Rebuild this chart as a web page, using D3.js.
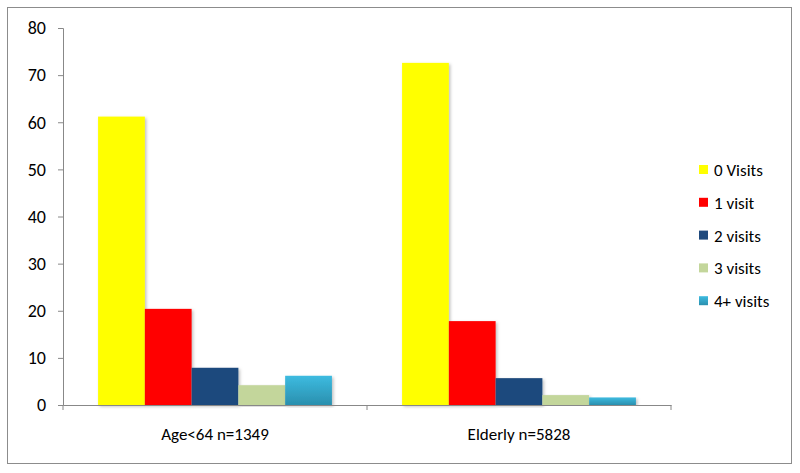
<html>
<head>
<meta charset="utf-8">
<script src="https://d3js.org/d3.v7.min.js"></script>
<style>
  body { margin: 0; background: #fff; }
  text { font-family: Carlito, Lato, "Open Sans", sans-serif; fill: #000; }
</style>
</head>
<body>
<div id="chart"></div>
<script>
// data
const groups = ["Age<64 n=1349", "Elderly n=5828"];
const seriesNames = ["0 Visits", "1 visit", "2 visits", "3 visits", "4+ visits"];
const seriesColors = ["#FFFF00", "#FF0000", "#1F497D", "#C3D69B", "#31B3D6"];
const visits0 = [61.2, 72.6];
const visits1 = [20.4, 17.8];
const visits2 = [7.9, 5.7];
const visits3 = [4.2, 2.1];
const visits4 = [6.2, 1.6];
const yTicks = [0, 10, 20, 30, 40, 50, 60, 70, 80];

const allSeries = [visits0, visits1, visits2, visits3, visits4];

const W = 800, H = 473;
const margin = {top: 28, right: 129, bottom: 68, left: 63};
const width = W - margin.left - margin.right,
      height = H - margin.top - margin.bottom;

const svg = d3.select("#chart").append("svg")
  .attr("width", W).attr("height", H);

// shadow + gradient for the light blue bars
const defs = svg.append("defs");
const f = defs.append("filter").attr("id", "shadow")
  .attr("x", "-10%").attr("y", "-5%").attr("width", "130%").attr("height", "115%");
f.append("feDropShadow").attr("dx", 1.5).attr("dy", 1.5).attr("stdDeviation", 1.5)
  .attr("flood-color", "#000").attr("flood-opacity", 0.25);
const gr = defs.append("linearGradient").attr("id", "cyanGrad")
  .attr("x1", 0).attr("y1", 0).attr("x2", 0).attr("y2", 1);
gr.append("stop").attr("offset", "0%").attr("stop-color", "#3DBBE0");
gr.append("stop").attr("offset", "100%").attr("stop-color", "#2A8FAE");

// outer border
svg.append("rect")
  .attr("x", 7.5).attr("y", 7.5).attr("width", 784).attr("height", 456)
  .attr("fill", "none").attr("stroke", "#8c8c8c").attr("stroke-width", 1);

const g = svg.append("g").attr("transform", `translate(${margin.left},${margin.top})`);

const x0 = d3.scaleBand().domain(groups).range([0, width]).paddingInner(0).paddingOuter(0);
// gap 150% of a bar -> 0.75 bar each side
const x1 = d3.scaleBand().domain(d3.range(seriesNames.length))
  .range([x0.bandwidth() * 0.75 / 6.5, x0.bandwidth() * (1 - 0.75 / 6.5)]).padding(0);
const y = d3.scaleLinear().domain([0, 80]).range([height, 0]);

// bars
allSeries.forEach((vals, si) => {
  g.selectAll(null)
    .data(vals)
    .join("rect")
      .attr("x", (d, i) => x0(groups[i]) + x1(si))
      .attr("y", d => y(d))
      .attr("width", x1.bandwidth())
      .attr("height", d => y(0) - y(d))
      .attr("fill", si === 4 ? "url(#cyanGrad)" : seriesColors[si])
      .attr("filter", "url(#shadow)");
});

// y axis
const yAxis = g.append("g")
  .call(d3.axisLeft(y).tickValues(yTicks).tickSize(5).tickPadding(12));
yAxis.selectAll("line, path").attr("stroke", "#888");
yAxis.selectAll("text").style("font-size", "18px").attr("fill", "#000");

// x axis
const xAxis = g.append("g").attr("transform", `translate(0,${height})`)
  .call(d3.axisBottom(x0).tickSize(0).tickPadding(23));
xAxis.select(".domain").attr("stroke", "#888");
xAxis.selectAll("text").style("font-size", "17px").attr("fill", "#000");
// tick marks at category boundaries
g.append("g").selectAll("line")
  .data([0, 1, 2])
  .join("line")
    .attr("x1", d => d * x0.bandwidth()).attr("x2", d => d * x0.bandwidth())
    .attr("y1", height).attr("y2", height + 5)
    .attr("stroke", "#888");

// legend
const legend = svg.append("g").attr("transform", "translate(699,170)");
seriesNames.forEach((name, i) => {
  const row = legend.append("g").attr("transform", `translate(0,${i * 32.8})`);
  row.append("rect").attr("x", 0).attr("y", -5).attr("width", 9).attr("height", 9)
    .attr("fill", i === 4 ? "url(#cyanGrad)" : seriesColors[i]);
  row.append("text").attr("x", 15).attr("y", 0).attr("dy", "0.35em")
    .style("font-size", "17px").text(name);
});
</script>
</body>
</html>
